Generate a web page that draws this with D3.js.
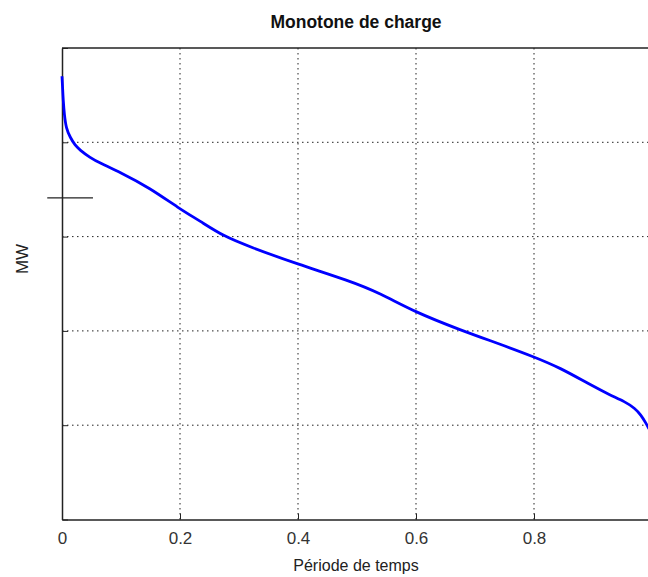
<!DOCTYPE html>
<html><head><meta charset="utf-8">
<script src="https://cdn.jsdelivr.net/npm/d3@7"></script>
<style>body{margin:0;background:#fff}svg{display:block}</style>
</head><body>
<svg id="chart" width="648" height="577"></svg>
<script>
const title = "Monotone de charge";
const xLabel = "Période de temps";
const yLabel = "MW";
const xTicks = [0, 0.2, 0.4, 0.6, 0.8];
const yTicks = [0, 1, 2, 3, 4, 5];
const timeFrac = [0, 0.001, 0.002, 0.004, 0.007, 0.014, 0.022, 0.03, 0.047, 0.064, 0.098, 0.149, 0.198, 0.234, 0.273, 0.319, 0.398, 0.488, 0.539, 0.598, 0.675, 0.742, 0.798, 0.844, 0.895, 0.929, 0.954, 0.971, 0.981, 0.990, 0.995];
const load = [4.70, 4.58, 4.45, 4.29, 4.15, 4.05, 3.97, 3.92, 3.84, 3.78, 3.685, 3.515, 3.30, 3.165, 3.006, 2.89, 2.71, 2.53, 2.40, 2.20, 2.01, 1.86, 1.73, 1.61, 1.43, 1.32, 1.25, 1.18, 1.11, 1.02, 0.96];
const markerX = [-0.025, 0.0525];
const markerY = 3.41;

const svg = d3.select("#chart");
const mLeft = 62, mRight = 652, mTop = 48, mBottom = 519.5;
const x = d3.scaleLinear().domain([0, 1]).range([mLeft, mRight]);
const y = d3.scaleLinear().domain([0, 5]).range([mBottom, mTop]);
const font = "'Liberation Sans', Arial, sans-serif";

// gridlines
const g = svg.append("g");
g.selectAll("line.vg").data(xTicks.filter(d => d > 0)).join("line")
  .attr("x1", d => x(d)).attr("x2", d => x(d)).attr("y1", mTop).attr("y2", mBottom)
  .attr("stroke", "#222").attr("stroke-width", 1).attr("stroke-dasharray", "1.5,3.5");
g.selectAll("line.hg").data(yTicks.filter(d => d > 0 && d < 5)).join("line")
  .attr("x1", mLeft).attr("x2", mRight).attr("y1", d => y(d)).attr("y2", d => y(d))
  .attr("stroke", "#222").attr("stroke-width", 1).attr("stroke-dasharray", "1.5,3.5");

// axes
const xAxis = d3.axisBottom(x).tickValues(xTicks).tickSizeInner(-6).tickSizeOuter(0).tickPadding(10)
  .tickFormat(d => d === 0 ? "0" : d3.format(".1f")(d));
const xa = svg.append("g").attr("transform", `translate(0,${mBottom})`).call(xAxis);
xa.select(".domain").attr("stroke", "#222").attr("stroke-width", 1.5);
xa.selectAll(".tick line").attr("stroke", "#222");
xa.selectAll("text").attr("font-family", font).attr("font-size", 17).attr("fill", "#333")
  .attr("dy", null).attr("y", 24.5);

const yAxis = d3.axisLeft(y).tickValues(yTicks).tickSizeInner(-6).tickSizeOuter(0).tickFormat("");
const ya = svg.append("g").attr("transform", `translate(${mLeft},0)`).call(yAxis);
ya.select(".domain").attr("stroke", "#222").attr("stroke-width", 1.5);
ya.selectAll(".tick line").attr("stroke", "#222");

// top border
svg.append("line").attr("x1", mLeft).attr("x2", mRight).attr("y1", mTop).attr("y2", mTop)
  .attr("stroke", "#222").attr("stroke-width", 1.5);

// data line
svg.append("path").datum(timeFrac.map((t, i) => [t, load[i]]))
  .attr("d", d3.line().x(d => x(d[0])).y(d => y(d[1])).curve(d3.curveBasis))
  .attr("fill", "none").attr("stroke", "#0000ff").attr("stroke-width", 2.8);

// marker segment
svg.append("line").attr("x1", x(markerX[0])).attr("x2", x(markerX[1]))
  .attr("y1", y(markerY)).attr("y2", y(markerY)).attr("stroke", "#222").attr("stroke-width", 1.2);

// texts
svg.append("text").attr("x", 356).attr("y", 28).attr("text-anchor", "middle")
  .attr("font-family", font).attr("font-size", 17.5).attr("font-weight", "bold").attr("fill", "#111").text(title);
svg.append("text").attr("x", 356).attr("y", 571).attr("text-anchor", "middle")
  .attr("font-family", font).attr("font-size", 16).attr("fill", "#222").text(xLabel);
svg.append("text").attr("transform", `translate(28,259) rotate(-90)`).attr("text-anchor", "middle")
  .attr("font-family", font).attr("font-size", 17).attr("fill", "#222").text(yLabel);
</script>
</body></html>
